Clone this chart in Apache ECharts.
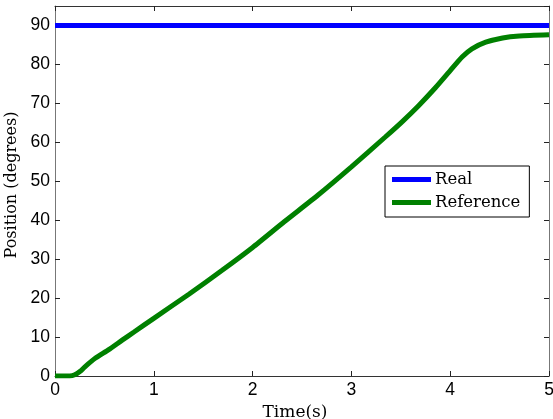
<!DOCTYPE html>
<html>
<head>
<meta charset="utf-8">
<script src="https://cdn.jsdelivr.net/npm/echarts@6/dist/echarts.min.js"></script>
<style>
  html, body { margin: 0; padding: 0; background: #fff; }
  #chart { width: 553px; height: 419px; }
</style>
</head>
<body>
<div id="chart"></div>
<script>
// time axis (s) and positions
const timeRef = [0, 0.15, 0.2, 0.255, 0.3, 0.41, 0.54, 0.68, 0.8, 1.0, 1.355, 1.695, 2.0,
    2.32, 2.66, 3.0, 3.34, 3.51, 3.68, 3.85, 4.0, 4.12, 4.22, 4.36, 4.53, 4.7, 5.0];
const posRef = [0, 0, 0.3, 1.2, 2.3, 4.6, 6.7, 9.2, 11.3, 14.8, 21.0, 27.2, 33.0,
    39.6, 46.4, 53.7, 61.3, 65.2, 69.4, 74.0, 78.4, 81.9, 84.0, 85.7, 86.8, 87.3, 87.6];
const timeReal = [0, 5];
const posReal = [90, 90];
const xTicks = [0, 1, 2, 3, 4, 5];
const yTicks = [0, 10, 20, 30, 40, 50, 60, 70, 80, 90];

let chartDom = document.getElementById('chart');
let chart = echarts.init(chartDom);

const zip = (xs, ys) => xs.map((x, i) => [x, ys[i]]);

const tickFont = { fontFamily: 'Liberation Sans', fontSize: 17.5, color: '#000' };
const serif = 'DejaVu Serif';

// main axes + mirrored ones (top/right) for the box look
const axisLine = color => ({ show: true, onZero: false, lineStyle: { color: color, width: 1 } });
const tick = () => ({ show: true, inside: true, length: 5, lineStyle: { color: '#222' } });

let option = {
    animation: false,
    backgroundColor: '#fff',
    grid: { left: 55, right: 4, top: 6, bottom: 43, containLabel: false, outerBoundsMode: 'none' },
    legend: {
        orient: 'vertical',
        left: 385,
        top: 166,
        backgroundColor: '#fff',
        borderColor: '#000',
        borderWidth: 1,
        borderRadius: 0,
        padding: [5, 9, 6, 7],
        itemGap: 6,
        itemWidth: 39,
        itemHeight: 5,
        icon: 'rect',
        textStyle: { fontFamily: serif, fontSize: 16.5, color: '#000', padding: [0, 0, 0, -1] },
        data: ['Real', 'Reference']
    },
    xAxis: [
        {
            type: 'value',
            min: xTicks[0],
            max: xTicks[xTicks.length - 1],
            interval: 1,
            name: 'Time(s)',
            nameLocation: 'middle',
            nameGap: 22,
            nameTextStyle: { fontFamily: serif, fontSize: 17, color: '#000', padding: [0, 14, 0, 0] },
            axisLine: axisLine('#333'),
            axisTick: tick(),
            axisLabel: Object.assign({ margin: 5 }, tickFont),
            splitLine: { show: false }
        },
        {
            type: 'value',
            position: 'top',
            min: 0, max: 5, interval: 1,
            axisLine: axisLine('#333'),
            axisTick: tick(),
            axisLabel: { show: false },
            splitLine: { show: false }
        }
    ],
    yAxis: [
        {
            type: 'value',
            min: yTicks[0],
            max: 95,
            interval: 10,
            name: 'Position (degrees)',
            nameLocation: 'middle',
            nameGap: 33,
            nameTextStyle: { fontFamily: serif, fontSize: 16, color: '#000', padding: [0, 0, 0, 12] },
            axisLine: axisLine('#777'),
            axisTick: tick(),
            axisLabel: Object.assign({ margin: 5, showMaxLabel: false }, tickFont),
            splitLine: { show: false }
        },
        {
            type: 'value',
            position: 'right',
            min: 0, max: 95, interval: 10,
            axisLine: axisLine('#777'),
            axisTick: tick(),
            axisLabel: { show: false },
            splitLine: { show: false }
        }
    ],
    series: [
        {
            name: 'Real',
            type: 'line',
            data: zip(timeReal, posReal),
            showSymbol: false,
            lineStyle: { color: '#0000ff', width: 5 },
            itemStyle: { color: '#0000ff' },
            z: 3
        },
        {
            name: 'Reference',
            type: 'line',
            data: zip(timeRef, posRef),
            showSymbol: false,
            smooth: 0.2,
            lineStyle: { color: '#008000', width: 5 },
            itemStyle: { color: '#008000' },
            z: 2
        }
    ]
};
chart.setOption(option);
</script>
</body>
</html>
